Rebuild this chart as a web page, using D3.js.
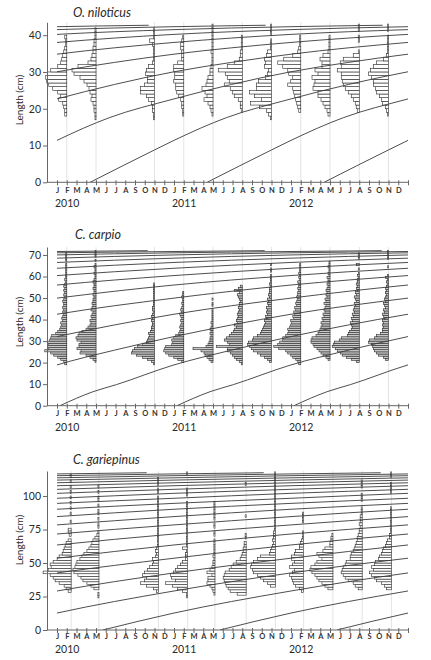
<!DOCTYPE html>
<html>
<head>
<meta charset="utf-8">
<script src="https://cdn.jsdelivr.net/npm/d3@7"></script>
<style>
  body { margin: 0; background: #fff; }
  svg text { font-family: Lato, "Open Sans", sans-serif; fill: #2a2a2a; }
</style>
</head>
<body>
<div id="chart"></div>
<script>
// Axis labels
const monthLetters = ['J','F','M','A','M','J','J','A','S','O','N','D'];
const yearLabels = ['2010', '2011', '2012'];
const yearStartMonth = [0, 12, 24];

// ---- O. niloticus ----
const niloticusMonths = [1, 4, 10, 13, 16, 19, 22, 25, 28, 31, 34];
const niloticusStart = [18, 17, 17, 18, 18, 19, 17, 19, 18, 19, 18];
const niloticusFreq = [
  [2,2,3,4,8,6,9,14,18,20,21,19,16,9,6,5,4,3,2,1,1,2],
  [1,1,2,2,3,5,4,6,7,9,12,16,22,24,18,8,5,4,3,3,2,2,1,1,1],
  [1,1,2,2,3,6,8,14,14,10,7,7,9,8,6,2,1,1,1,1,2,5,1,1,1],
  [1,1,2,2,3,5,7,8,8,10,9,9,10,10,6,2,2,2,3,3,2,1],
  [1,2,3,5,9,6,8,11,7,6,5,3,3,2,1,1,1,2,1,1,1,1,1,1,1],
  [1,2,2,4,8,10,12,18,13,15,17,24,15,8,3,2,2,1,1,1,1],
  [1,3,5,12,21,10,17,22,15,15,13,6,4,3,7,6,7,5,4,1,1,1,0,1,1,1],
  [2,3,4,5,6,7,8,13,10,8,12,13,18,23,17,8,3,2,1,1,1],
  [2,3,5,7,9,12,12,17,16,15,18,12,15,8,8,10,7,2,1,1,1,1],
  [2,3,4,6,8,11,14,16,17,18,18,22,18,19,16,6,1,0,0,1,1,0,1,1],
  [1,2,3,6,7,9,12,13,15,15,17,20,18,15,12,5,2,1,1,1,1,1,0,1,1]
];
// growth curve: [age in months, length cm]
const niloticusGrowth = [[0,0],[6.6,8.8],[8.6,11.4],[14,17.6],[20.5,22.6],[26.5,26.6],[32.5,30.0],
  [38.5,32.6],[44.5,34.8],[56.5,38.0],[68.5,40.2],[80.5,41.5],[92.5,42.3],[102,42.7]];
const niloticusBirths = [-92.6,-80.6,-68.6,-56.6,-44.6,-32.6,-20.6,-8.6,3.4,15.4,27.4];

// ---- C. carpio ----
const carpioMonths = [1, 4, 10, 13, 16, 19, 22, 25, 28, 31, 34];
const carpioStart = [19, 20, 19, 20, 20, 19, 20, 19, 21, 20, 21];
const carpioFreq = [
  [2,3,6,9,13,16,22,18,19,18,19,17,16,15,11,9,7,6,5,6,4,5,4,3,4,3,4,3,3,4,3,2,3,2,3,2,3,2,1,2,1,1,1,1,1,1,1,0,1,1,1,1],
  [1,3,6,10,16,15,19,17,17,15,19,20,18,17,14,10,8,6,5,6,4,5,4,3,5,4,3,4,3,3,2,3,2,2,3,2,2,3,2,1,1,2,1,1,2,1,0,1,0,1,1,1],
  [1,3,7,12,18,23,22,20,17,12,8,7,6,5,6,4,3,3,2,2,3,2,3,2,1,2,2,1,1,1,1,1,1,1,1,1,1,1],
  [2,6,10,15,18,20,19,18,12,11,12,10,8,5,4,3,4,3,2,3,2,3,4,2,3,2,1,2,1,1,2,1,1],
  [2,4,6,8,9,12,20,7,5,4,3,3,2,3,2,3,2,1,2,1,1,1,1,1,1,0,1,1,0,1],
  [1,3,6,8,10,12,15,15,26,13,15,18,16,13,11,9,8,6,8,5,6,5,4,5,4,3,4,3,3,2,3,4,5,3,8,4,2],
  [2,4,7,11,14,18,20,22,24,23,19,18,14,11,10,9,8,7,6,7,5,6,4,5,4,5,3,4,3,4,2,3,2,2,2,1,2,1,1,1,1,0,1,1,0,1],
  [2,3,5,8,10,13,15,22,27,23,21,18,18,15,13,12,13,11,10,9,10,7,8,6,7,5,6,4,5,4,3,4,3,3,2,3,2,2,3,1,2,1,2,1,1,1,1],
  [2,4,7,9,11,13,16,17,19,19,18,14,12,11,10,9,8,9,7,8,6,7,5,6,5,4,6,4,5,3,4,3,4,3,2,3,2,2,3,1,2,1,1,2,1,1],
  [3,8,13,17,19,22,24,27,26,25,20,18,12,11,10,8,7,8,9,7,8,6,7,5,6,5,4,5,3,4,5,3,4,2,3,2,3,2,2,1,2,1,0,1,0,3,0,0,1,1,1],
  [3,5,10,12,14,15,16,17,20,19,14,12,8,6,6,5,6,5,6,4,5,6,4,5,3,4,5,3,4,3,2,3,2,3,2,1,2,1,3,1,0,0,0,1,0,0,0,1,1,1,1]
];
const carpioGrowth = [[0,0],[3.4,6.5],[5.8,9.8],[11.6,18.8],[17.6,25.8],[23.6,32.0],[29.6,37.5],[35.6,42.4],
  [47.6,49.9],[59.6,56.0],[71.6,60.4],[83.6,63.8],[95.6,66.5],[107.6,68.5],[119.6,70.0],[131.6,71.0],
  [143.6,71.6],[153,72.0]];
const carpioBirths = [-143.7,-131.7,-119.7,-107.7,-95.7,-83.7,-71.7,-59.7,-47.7,-35.7,-23.7,-11.7,0.3,12.3,24.3];

// ---- C. gariepinus ----
const gariepinusMonths = [1.45, 4.3, 10.4, 13.4, 16.2, 19.4, 22.4, 25.3, 28.3, 31.3, 34.3];
const gariepinusStart = [28, 24, 28, 24, 26, 26, 32, 28, 30, 30, 30];
const gariepinusFreq = [
  [3,5,7,12,16,18,21,28,23,20,21,18,14,12,9,8,7,6,5,3,0,2,3,3,0,0,1,0,0,1,0,1,0,1,0,1,0,1,0,1,0,1,0,1],
  [1,1,0,5,8,12,16,18,21,25,26,24,23,22,19,17,15,12,10,8,7,6,4,2,1,0,1,1,0,1,0,1,1,0,1,0,1,1,0,1,0,1],
  [2,5,12,18,14,12,16,14,11,9,6,5,6,3,2,3,2,1,1,1,1,1,1,1,1,1,1,1,1,1,1,1,1,1,1,1,0,1,1,0,1,1,1],
  [1,1,5,10,15,22,12,16,17,14,12,10,7,5,2,2,2,1,5,1,1,1,1,1,1,1,1,1,1,1,1,1,1,1,1,1,0,0,1,1,1,0,0,0,0,0,1],
  [1,2,3,5,8,7,7,3,8,5,3,2,2,1,2,1,1,1,1,1,1,0,1,1,0,1,1,0,1,1,1,1,1,1,1],
  [9,16,18,20,21,22,23,22,21,17,15,13,10,6,5,4,3,3,2,2,0,1,1,0,0,0,0,0,0,1,0,0,0,0,0,0,0,0,0,0,0,1],
  [5,8,12,15,18,22,23,25,24,22,18,15,6,5,4,3,2,3,2,2,2,1,1,1,1,1,1,1,1,1,1,1,1,1,1,1,1,1,1,1,1,1,1],
  [2,4,8,10,11,12,14,11,9,14,11,9,12,12,9,8,4,4,3,2,1,1,1,0,0,0,1,1,1,1],
  [5,8,11,14,16,18,21,23,22,18,16,11,14,16,10,8,3,3,2,2,1],
  [4,7,9,14,17,19,21,20,19,17,16,12,12,11,9,8,7,6,5,5,4,3,3,2,3,2,2,2,1,1,1,0,0,1,1,1,0,0,1,1,1],
  [5,7,10,15,17,20,22,18,20,17,16,13,12,10,9,8,6,5,4,2,2,1,1,1,1,1,1,1,1,1,1,0,0,0,0,0,1,1,1,1,0,0,1,1]
];
const gariepinusGrowth = [[0,0],[7.2,12.5],[19.2,29.0],[31.2,42.5],[43.2,53.5],[55.2,63.4],[67.2,71.6],
  [79.2,78.4],[91.2,84.6],[103.2,90.1],[115.2,94.5],[127.2,98.3],[139.2,102],[151.2,105],[163.2,107.7],
  [175.2,109.9],[187.2,111.9],[199.2,113.6],[211.2,115.2],[223.2,116.5],[232.5,117.4]];
const gariepinusBirths = [-223.3,-211.3,-199.3,-187.3,-175.3,-163.3,-151.3,-139.3,-127.3,-115.3,-103.3,
  -91.3,-79.3,-67.3,-55.3,-43.3,-31.3,-19.3,-7.3,4.7,16.7,28.7];

// Panel setup
const panels = [
  { title: 'O. niloticus', months: niloticusMonths, starts: niloticusStart, freq: niloticusFreq, bin: 1,
    growth: niloticusGrowth, births: niloticusBirths, yMax: 43.5, yTicks: [0,10,20,30,40],
    top: 22.3, bottom: 182.3, fill: '#fff', titleX: 73, titleY: 17, labelY: 100, monthDy: 11, yearDy: 24.5 },
  { title: 'C. carpio', months: carpioMonths, starts: carpioStart, freq: carpioFreq, bin: 1,
    growth: carpioGrowth, births: carpioBirths, yMax: 73.7, yTicks: [0,10,20,30,40,50,60,70],
    top: 247, bottom: 405.7, fill: '#c9c9c9', titleX: 75, titleY: 239, labelY: 322, monthDy: 10.5, yearDy: 25 },
  { title: 'C. gariepinus', months: gariepinusMonths, starts: gariepinusStart, freq: gariepinusFreq, bin: 2,
    growth: gariepinusGrowth, births: gariepinusBirths, yMax: 118.7, yTicks: [0,25,50,75,100],
    top: 471, bottom: 630, fill: '#fff', titleX: 73, titleY: 464, labelY: 540, monthDy: 8.5, yearDy: 23 }
];

const svg = d3.select('#chart')
  .append('svg')
  .attr('width', 431)
  .attr('height', 660);

const x = d3.scaleLinear().domain([0, 36]).range([57, 408]);
const freqScale = d3.scaleLinear().domain([0, 10]).range([0, 10]);

function renderPanel(p, idx) {
  const y = d3.scaleLinear().domain([0, p.yMax]).range([p.bottom, p.top]);
  const g = svg.append('g');

  // Light gridlines at sampling dates
  g.selectAll('line.grid')
    .data(p.months)
    .enter()
    .append('line')
    .attr('x1', d => x(d)).attr('x2', d => x(d))
    .attr('y1', p.top).attr('y2', p.bottom)
    .attr('stroke', '#e4e4e4')
    .attr('stroke-width', 1);

  // Length-frequency bars, extending left from each sample date
  p.months.forEach((m, i) => {
    const bins = p.freq[i]
      .map((v, j) => ({ len: p.starts[i] + j * p.bin, v: v }))
      .filter(d => d.v > 0);
    g.append('g')
      .selectAll('rect')
      .data(bins)
      .enter()
      .append('rect')
      .attr('x', d => x(m) - freqScale(d.v))
      .attr('y', d => y(d.len + p.bin))
      .attr('width', d => freqScale(d.v))
      .attr('height', d => y(d.len) - y(d.len + p.bin))
      .attr('fill', p.fill)
      .attr('stroke', '#2b2b2b')
      .attr('stroke-width', 0.6);
  });

  // Growth curves (one per cohort)
  svg.append('clipPath')
    .attr('id', 'clip' + idx)
    .append('rect')
    .attr('x', x(0)).attr('y', p.top - 2)
    .attr('width', x(36) - x(0)).attr('height', p.bottom - p.top + 2);

  const line = d3.line()
    .x(d => x(d[0]))
    .y(d => y(d[1]))
    .curve(d3.curveMonotoneX);

  g.append('g')
    .attr('clip-path', `url(#clip${idx})`)
    .selectAll('path')
    .data(p.births)
    .enter()
    .append('path')
    .attr('d', b => line(p.growth.map(pt => [b + pt[0], pt[1]])))
    .attr('fill', 'none')
    .attr('stroke', '#3a3a3a')
    .attr('stroke-width', 0.9);

  // Y axis
  const yAxis = g.append('g')
    .attr('transform', 'translate(47,0)')
    .call(d3.axisLeft(y).tickValues(p.yTicks).tickSize(4).tickSizeOuter(0).tickPadding(2));
  yAxis.selectAll('path, line').attr('stroke', '#666');
  yAxis.selectAll('text').style('font-size', '10.5px');

  // X axis
  g.append('line')
    .attr('x1', 47).attr('x2', x(36))
    .attr('y1', p.bottom).attr('y2', p.bottom)
    .attr('stroke', '#666');
  const xAxis = g.append('g')
    .attr('transform', `translate(0,${p.bottom})`)
    .call(d3.axisBottom(x)
      .tickValues(d3.range(0, 37))
      .tickSize(3)
      .tickFormat(d => d < 36 ? monthLetters[d % 12] : ''));
  xAxis.select('.domain').remove();
  xAxis.selectAll('line').attr('y1', -2).attr('stroke', '#666');
  xAxis.selectAll('text')
    .attr('y', p.monthDy).attr('dy', 0)
    .style('font-size', '7.5px')
    .style('font-weight', 'bold')
    .style('fill', '#333');

  // Year labels
  g.selectAll('text.year')
    .data(yearLabels)
    .enter()
    .append('text')
    .attr('x', (d, i) => x(yearStartMonth[i]) - 2)
    .attr('y', p.bottom + p.yearDy)
    .style('font-size', '10.5px')
    .text(d => d);

  // Title
  g.append('text')
    .attr('x', p.titleX)
    .attr('y', p.titleY)
    .style('font-size', '12.5px')
    .style('font-style', 'italic')
    .text(p.title);

  // Y label
  g.append('text')
    .attr('transform', `translate(23,${p.labelY}) rotate(-90)`)
    .attr('text-anchor', 'middle')
    .style('font-size', '10px')
    .text('Length (cm)');
}

panels.forEach(renderPanel);
</script>
</body>
</html>
